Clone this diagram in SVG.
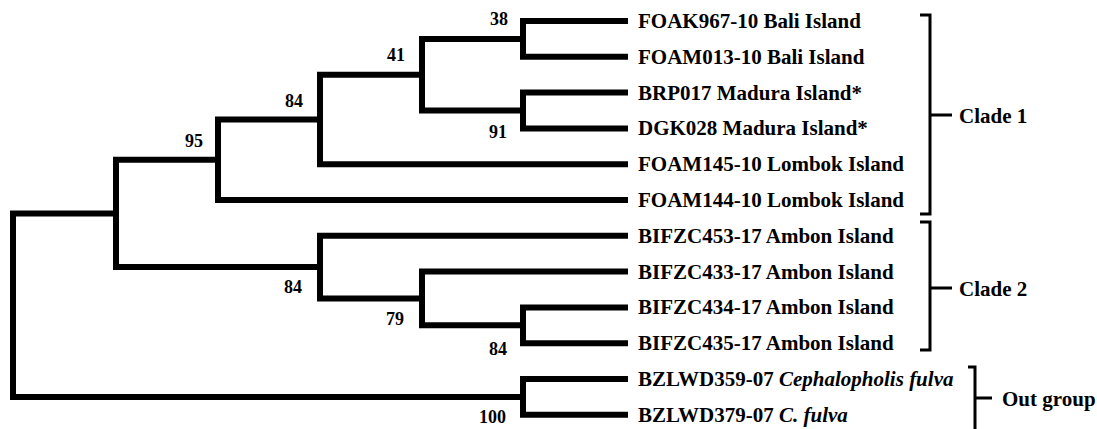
<svg xmlns="http://www.w3.org/2000/svg" width="1097" height="429" viewBox="0 0 1097 429">
<style>
.br{fill:none;stroke:#000;stroke-width:6;stroke-linejoin:miter;stroke-linecap:butt}
.bk{fill:none;stroke:#000;stroke-width:3;stroke-linejoin:miter;stroke-linecap:butt}
.tip{font-family:"Liberation Serif","Times New Roman",serif;font-weight:bold;font-size:21px;fill:#000}
.tip .it{font-style:italic}
.bs{font-family:"Liberation Serif","Times New Roman",serif;font-weight:bold;font-size:18px;fill:#000;text-anchor:end}
.cl{font-family:"Liberation Serif","Times New Roman",serif;font-weight:bold;font-size:21px;fill:#000}
</style>
<rect width="1097" height="429" fill="#fff"/>
<g id="connectors">
<path class="br" d="M116 213.4 H13 V396.9 H523"/>
<path class="br" d="M218 159.7 H116 V267.1 H320"/>
<path class="br" d="M320 119.45 H218 V200 H628"/>
<path class="br" d="M422 74.7 H320 V164.2 H628"/>
<path class="br" d="M523 38.9 H422 V110.5 H523"/>
<path class="br" d="M628 21 H523 V56.8 H628"/>
<path class="br" d="M628 92.6 H523 V128.4 H628"/>
<path class="br" d="M628 235.8 H320 V298.45 H422"/>
<path class="br" d="M628 271.6 H422 V325.3 H523"/>
<path class="br" d="M628 307.4 H523 V343.2 H628"/>
<path class="br" d="M628 379 H523 V414.8 H628"/>
</g>
<g id="node-38"><text class="bs" x="508" y="25">38</text></g>
<g id="node-41"><text class="bs" x="405" y="60.5">41</text></g>
<g id="node-84a"><text class="bs" x="303" y="106.5">84</text></g>
<g id="node-95"><text class="bs" x="203" y="147">95</text></g>
<g id="node-91"><text class="bs" x="507" y="138">91</text></g>
<g id="node-84b"><text class="bs" x="302" y="293">84</text></g>
<g id="node-79"><text class="bs" x="404" y="325">79</text></g>
<g id="node-84c"><text class="bs" x="507" y="355">84</text></g>
<g id="node-100"><text class="bs" x="506" y="423">100</text></g>
<g id="tip-1"><text class="tip" x="638" y="28">FOAK967-10 Bali Island</text></g>
<g id="tip-2"><text class="tip" x="638" y="63.8">FOAM013-10 Bali Island</text></g>
<g id="tip-3"><text class="tip" x="638" y="99.6">BRP017 Madura Island*</text></g>
<g id="tip-4"><text class="tip" x="638" y="135.4">DGK028 Madura Island*</text></g>
<g id="tip-5"><text class="tip" x="638" y="171.2">FOAM145-10 Lombok Island</text></g>
<g id="tip-6"><text class="tip" x="638" y="207">FOAM144-10 Lombok Island</text></g>
<g id="tip-7"><text class="tip" x="638" y="242.8">BIFZC453-17 Ambon Island</text></g>
<g id="tip-8"><text class="tip" x="638" y="278.6">BIFZC433-17 Ambon Island</text></g>
<g id="tip-9"><text class="tip" x="638" y="314.4">BIFZC434-17 Ambon Island</text></g>
<g id="tip-10"><text class="tip" x="638" y="350.2">BIFZC435-17 Ambon Island</text></g>
<g id="tip-11"><text class="tip" x="638" y="386">BZLWD359-07 <tspan class="it">Cephalopholis fulva</tspan></text></g>
<g id="tip-12"><text class="tip" x="638" y="421.8">BZLWD379-07 <tspan class="it">C. fulva</tspan></text></g>
<g id="clade-1">
<path class="bk" d="M920 15 H930 V214 H920 M930 115 H952"/>
<text class="cl" x="959" y="123">Clade 1</text>
</g>
<g id="clade-2">
<path class="bk" d="M920 222 H930 V350 H920 M930 288 H952"/>
<text class="cl" x="959" y="296">Clade 2</text>
</g>
<g id="out-group">
<path class="bk" d="M968 367 H975 V432 M975 398 H992"/>
<text class="cl" x="1002" y="406">Out group</text>
</g>
</svg>
